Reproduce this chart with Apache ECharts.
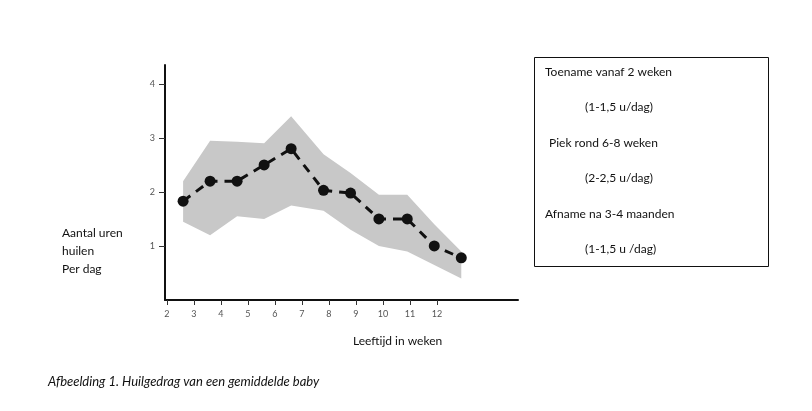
<!DOCTYPE html>
<html><head><meta charset="utf-8">
<script src="https://cdn.jsdelivr.net/npm/echarts@6/dist/echarts.min.js"></script>
<style>body{margin:0;background:#fff}#c{width:812px;height:411px}</style>
</head><body><div id="c"></div>
<script>
const weeks = [2.6, 3.6, 4.6, 5.6, 6.6, 7.8, 8.8, 9.85, 10.9, 11.9, 12.9];
const meanHours = [1.83, 2.2, 2.2, 2.5, 2.8, 2.03, 1.98, 1.5, 1.5, 1.0, 0.78];
const upperHours = [2.2, 2.95, 2.93, 2.9, 3.4, 2.7, 2.35, 1.95, 1.95, 1.4, 0.9];
const lowerHours = [1.45, 1.2, 1.55, 1.5, 1.75, 1.65, 1.3, 1.0, 0.9, 0.65, 0.4];
const xTicks = [2,3,4,5,6,7,8,9,10,11,12];
const yTicks = [1,2,3,4];
const boxLines = ['Toename vanaf 2 weken','(1-1,5 u/dag)','Piek rond 6-8 weken','(2-2,5 u/dag)','Afname na 3-4 maanden','(1-1,5 u /dag)'];
const boxX = [545, 585, 549, 585, 545, 585];

const chart = echarts.init(document.getElementById('c'));
const lbl = {color:'#555', fontSize:9, fontFamily:'Lato'};
const txt = (s) => ({fontSize:12, fill:'#111', fontFamily:'Lato', text:s});
chart.setOption({
  animation:false,
  grid:{left:165, right:294, top:65, bottom:111},
  xAxis:{type:'value', min:1.93, max:15, interval:1,
    axisLine:{lineStyle:{color:'#111', width:2}},
    axisTick:{show:true, length:5, lineStyle:{color:'#333'}, customValues:xTicks},
    axisLabel:{...lbl, customValues:xTicks, margin:10},
    splitLine:{show:false}},
  yAxis:{type:'value', min:0, max:4.35,
    axisLine:{show:true, lineStyle:{color:'#111', width:2}},
    axisTick:{show:true, length:6, lineStyle:{color:'#333'}, customValues:yTicks},
    axisLabel:{...lbl, customValues:yTicks, margin:10},
    splitLine:{show:false}},
  series:[
    {type:'custom', data:weeks.map((w,i)=>[w,lowerHours[i],upperHours[i]]), z:1,
      renderItem:function(params, api){
        if (params.dataIndex !== 0) return null;
        const top = weeks.map((w,i)=>api.coord([w, upperHours[i]]));
        const bot = weeks.map((w,i)=>api.coord([w, lowerHours[i]])).reverse();
        return {type:'polygon', shape:{points:top.concat(bot)}, style:{fill:'#c8c8c8'}};
      }},
    {type:'line', data:weeks.map((w,i)=>[w,meanHours[i]]), symbol:'circle', symbolSize:11, z:3,
      itemStyle:{color:'#111'}, lineStyle:{color:'#111', width:3, type:[9,7]}}
  ],
  graphic:[
    {type:'rect', shape:{x:534.5, y:57.5, width:234, height:209}, style:{fill:'none', stroke:'#111', lineWidth:1}},
    ...boxLines.map((s,i)=>({type:'text', x:boxX[i], y:66+i*35.5, style:txt(s)})),
    {type:'text', x:62, y:224, style:{...txt('Aantal uren\nhuilen\nPer dag'), lineHeight:18}},
    {type:'text', x:353, y:335, style:txt('Leeftijd in weken')},
    {type:'text', x:48, y:375, style:{...txt('Afbeelding 1. Huilgedrag van een gemiddelde baby'), fontStyle:'italic', fontSize:13}}
  ]
});
</script></body></html>
